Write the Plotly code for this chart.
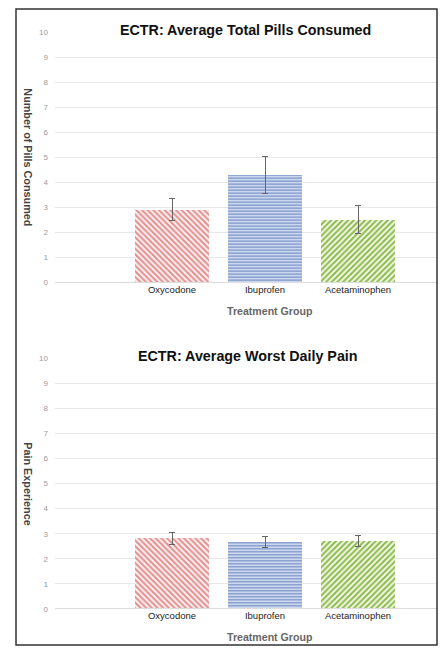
import plotly.graph_objects as go

W, H = 443, 652

categories = ["Oxycodone", "Ibuprofen", "Acetaminophen"]
pills_mean = [2.91, 4.30, 2.52]
pills_err = [0.43, 0.74, 0.57]
pain_mean = [2.82, 2.66, 2.71]
pain_err = [0.24, 0.23, 0.21]
y_ticks = list(range(0, 11))

fg = ["#e48f8f", "#6a88c4", "#8dbb4c"]
bg = ["#fbf2f2", "#eef2fa", "#f3f8ea"]
shapes_pat = ["\\", "-", "/"]
sizes = [4, 3, 4]

xpos = [1, 2, 3]

def px(x):
    return x / W

def py(y):
    return 1 - y / H

fig = go.Figure()

for ax, (means, errs) in enumerate([(pills_mean, pills_err), (pain_mean, pain_err)]):
    for i, cat in enumerate(categories):
        fig.add_trace(go.Bar(
            x=[xpos[i]], y=[means[i]],
            width=0.8,
            marker=dict(
                color="white",
                line=dict(width=0),
                pattern=dict(shape=shapes_pat[i], fgcolor=fg[i], bgcolor=bg[i],
                             size=sizes[i], solidity=0.5, fillmode="replace"),
            ),
            error_y=dict(type="data", array=[errs[i]], color="#666666", thickness=1, width=3),
            xaxis="x" if ax == 0 else "x2",
            yaxis="y" if ax == 0 else "y2",
            showlegend=False,
            hoverinfo="skip",
        ))

xdom = [px(55), px(438)]
common_x = dict(range=[-0.258, 3.86], tickvals=xpos, ticktext=categories,
                showgrid=False, zeroline=False, showline=False, ticks="",
                tickfont=dict(family="Liberation Sans", size=9.5, color="#222222"),
                fixedrange=True)
common_y = dict(range=[0, 10], tickvals=y_ticks, showgrid=True, gridcolor="#e8e8e8", gridwidth=1,
                zeroline=True, zerolinecolor="#dcdcdc", zerolinewidth=1, showline=False, ticks="",
                tickfont=dict(family="Liberation Sans", size=8, color="#9a9a9a"), ticklabelstandoff=6,
                fixedrange=True)

fig.update_layout(
    width=W, height=H,
    margin=dict(l=0, r=0, t=0, b=0),
    paper_bgcolor="white", plot_bgcolor="white",
    bargap=0,
    xaxis=dict(domain=xdom, anchor="y", **common_x),
    yaxis=dict(domain=[py(282), py(29)], anchor="x", **common_y),
    xaxis2=dict(domain=xdom, anchor="y2", **common_x),
    yaxis2=dict(domain=[py(613.3), py(359.3)], anchor="x2", **common_y),
)

ann = []
titles = [("ECTR: Average Total Pills Consumed", 26, 245), ("ECTR: Average Worst Daily Pain", 357, 248)]
for t, y, x in titles:
    ann.append(dict(text="<b>%s</b>" % t, x=px(x), y=py(y), xref="paper", yref="paper",
                    showarrow=False, xanchor="center", yanchor="middle",
                    font=dict(family="Liberation Sans", size=14.3, color="#111111")))
for y in [311, 642]:
    ann.append(dict(text="<b>Treatment Group</b>", x=px(270), y=py(y), xref="paper", yref="paper",
                    showarrow=False, xanchor="center", yanchor="middle",
                    font=dict(family="Liberation Sans", size=10.6, color="#666666")))
for t, y in [("Number of Pills Consumed", 155.5), ("Pain Experience", 486)]:
    ann.append(dict(text="<b>%s</b>" % t, x=px(28), y=py(y), xref="paper", yref="paper",
                    showarrow=False, xanchor="center", yanchor="middle", textangle=90,
                    font=dict(family="Liberation Sans", size=10.8, color="#444444")))
fig.update_layout(annotations=ann)

fig.add_shape(type="rect", xref="paper", yref="paper",
              x0=px(16), x1=px(437), y0=py(650), y1=py(5),
              line=dict(color="#333333", width=1.5), fillcolor="rgba(0,0,0,0)")

fig.write_html("out.html", config={"displayModeBar": False},
               post_script="document.body.style.margin='0';document.body.style.overflow='hidden';")
